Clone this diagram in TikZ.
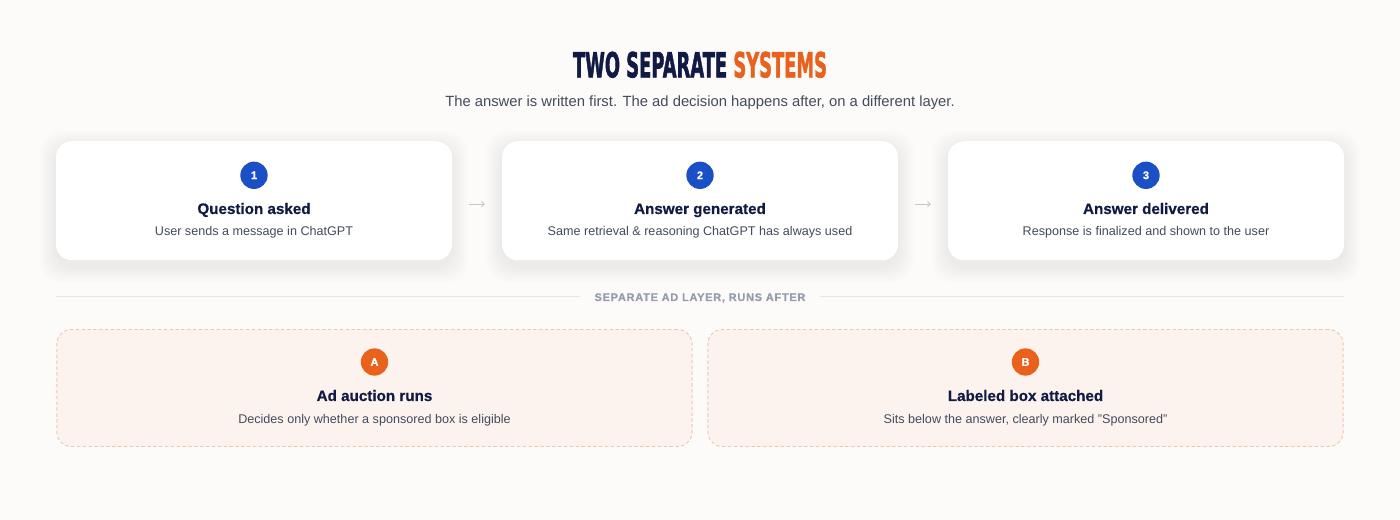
\documentclass[tikz,border=0pt]{standalone}
\usepackage{fontspec}
\setmainfont{Liberation Sans}
\newfontfamily\titlefont{DejaVu Sans Bold}[FakeBold=2.2]
\newfontfamily\headfont{Liberation Sans Bold}[FakeBold=0.6]
\usetikzlibrary{arrows.meta}
\definecolor{bgc}{HTML}{FCFBFA}
\definecolor{navy}{HTML}{111A44}
\definecolor{orng}{HTML}{E8621E}
\definecolor{blu}{HTML}{1A4FC6}
\definecolor{subg}{HTML}{434B5C}
\definecolor{lineg}{HTML}{E3E5EA}
\definecolor{labg}{HTML}{959CB0}
\definecolor{arrg}{HTML}{C3C7D0}
\definecolor{adfill}{HTML}{FCF3EF}
\definecolor{adline}{HTML}{F0C6AD}
\tikzset{
  topcard/.style={draw=none, fill=white, rounded corners=12pt, minimum width=297pt, minimum height=89.25pt, inner sep=0pt},
  adcard/.style={draw=adline, line width=0.7pt, dash pattern=on 2.6pt off 1.8pt, fill=adfill, rounded corners=11pt, minimum width=476.5pt, minimum height=87.75pt, inner sep=0pt},
  numdot/.style={circle, fill=blu, minimum size=20.5pt, inner sep=0pt, text=white, font=\headfont\fontsize{8.3pt}{10pt}\selectfont},
  letdot/.style={numdot, fill=orng},
  cardtitle/.style={anchor=base, inner sep=0pt, text=navy, font=\headfont\fontsize{11.4pt}{13pt}\selectfont},
  cardsub/.style={anchor=base, inner sep=0pt, text=subg, font=\fontsize{9.45pt}{11pt}\selectfont},
  flowarrow/.style={draw=arrg, line width=0.6pt, -{Straight Barb[length=2.2pt,width=4pt]}, shorten <=12.6pt, shorten >=12.6pt}
}
\begin{document}
\begin{tikzpicture}[x=0.75pt, y=-0.75pt]
\useasboundingbox[fill=bgc] (0,0) rectangle (1400,520);
% title
\node[anchor=base, inner sep=0pt] (title) at (700,77.3) {\resizebox{190.5pt}{19.2pt}{\titlefont \textcolor{navy}{TWO SEPARATE} \textcolor{orng}{SYSTEMS}}};
\node[anchor=base, inner sep=0pt, text=subg, font=\fontsize{11.1pt}{13pt}\selectfont] (subtitle) at (700,107) {The answer is written first. The ad decision happens after, on a different layer.};
% shadows
\foreach \cx in {254,700,1146}{
  \foreach \s in {16,14,12,10,8,6,4,2}{
    \fill[black, opacity=0.006, rounded corners=16pt] (\cx-198-\s,141-\s+6) rectangle (\cx+198+\s,260.5+\s+6);
  }
}
% top cards
\node[topcard] (c1) at (254,200.75) {};
\node[topcard] (c2) at (700,200.75) {};
\node[topcard] (c3) at (1146,200.75) {};
\node[numdot] (n1) at (254,175.3) {1};
\node[numdot] (n2) at (700,175.3) {2};
\node[numdot] (n3) at (1146,175.3) {3};
\node[cardtitle] (t1) at (254,214) {Question asked};
\node[cardtitle] (t2) at (700,214) {Answer generated};
\node[cardtitle] (t3) at (1146,214) {Answer delivered};
\node[cardsub] (s1) at (254,236) {User sends a message in ChatGPT};
\node[cardsub] (s2) at (700,236) {Same retrieval \& reasoning ChatGPT has always used};
\node[cardsub] (s3) at (1146,236) {Response is finalized and shown to the user};
\draw[flowarrow] ([yshift=-2.6pt]c1.east) -- ([yshift=-2.6pt]c2.west);
\draw[flowarrow] ([yshift=-2.6pt]c2.east) -- ([yshift=-2.6pt]c3.west);
% divider
\node[inner sep=0pt, anchor=base, text=labg, font=\headfont\fontsize{8.2pt}{10pt}\selectfont\addfontfeatures{LetterSpace=7}] (sep) at (700,301) {SEPARATE AD LAYER, RUNS AFTER};
\coordinate (dl) at (56,297);
\coordinate (dr) at (1344,297);
\coordinate (dlm) at (580,297);
\coordinate (drm) at (820,297);
\draw[lineg, line width=0.75pt] (dl) -- (dlm);
\draw[lineg, line width=0.75pt] (drm) -- (dr);
% ad cards
\node[adcard] (a1) at (374.5,388) {};
\node[adcard] (a2) at (1025.5,388) {};
\node[letdot] (la) at (374.5,362) {A};
\node[letdot] (lb) at (1025.5,362) {B};
\node[cardtitle] (ta) at (374.5,401) {Ad auction runs};
\node[cardtitle] (tb) at (1025.5,401) {Labeled box attached};
\node[cardsub] (sa) at (374.5,423.3) {Decides only whether a sponsored box is eligible};
\node[cardsub] (sb) at (1025.5,423.3) {Sits below the answer, clearly marked "Sponsored"};
\end{tikzpicture}
\end{document}
